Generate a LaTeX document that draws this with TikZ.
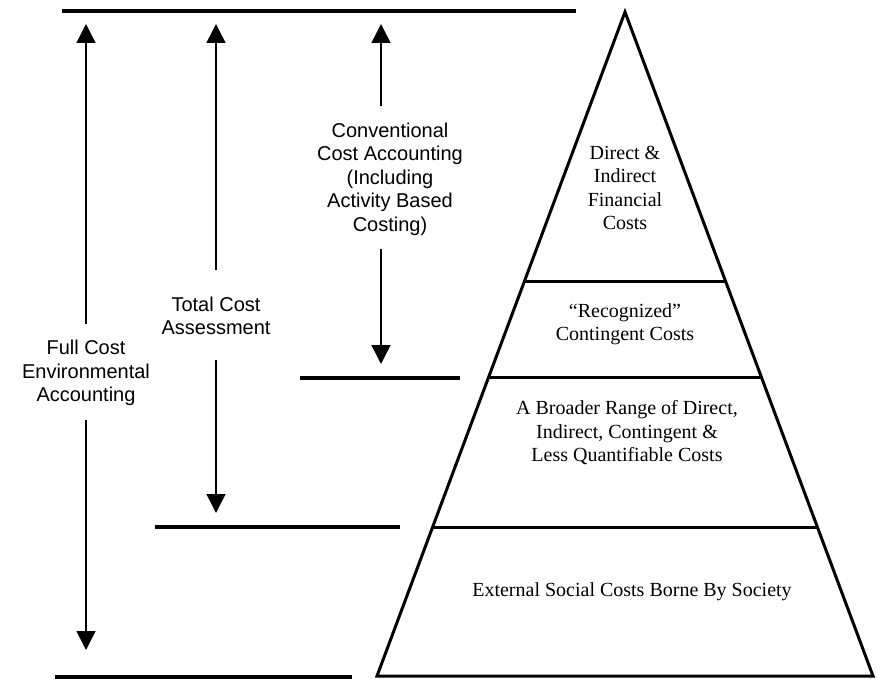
\documentclass[tikz,border=0pt]{standalone}
\usepackage{fontspec}
\setmainfont{Liberation Serif}
\newfontfamily\arialf{Liberation Sans}
\usetikzlibrary{arrows.meta,calc}
\begin{document}
\begin{tikzpicture}[x=1pt,y=-1pt,
  hline/.style={line width=3.2pt},
  pyr/.style={line width=3pt, line join=miter},
  shaft/.style={line width=1.5pt, -{Triangle[width=19pt,length=19pt]}},
  sidelabel/.style={font=\arialf\fontsize{20}{23.5}\selectfont, align=center, inner sep=0pt},
  pyrlabel/.style={font=\fontsize{20}{23.5}\selectfont, align=center, inner sep=0pt},
]
\useasboundingbox (0,0) rectangle (877,679);

% pyramid
\coordinate (A) at (625,12);
\coordinate (BL) at (377,676);
\coordinate (BR) at (873,676);
\draw[pyr] (A) -- (BR) -- (BL) -- cycle;
\draw[pyr] ($(A)!0.4066!(BL)$) -- ($(A)!0.4066!(BR)$);
\draw[pyr] ($(A)!0.5512!(BL)$) -- ($(A)!0.5512!(BR)$);
\draw[pyr] ($(A)!0.7756!(BL)$) -- ($(A)!0.7756!(BR)$);

% horizontal level lines
\coordinate (t1) at (62,11);   \coordinate (t2) at (576,11);
\coordinate (c1) at (300,378); \coordinate (c2) at (460,378);
\coordinate (s1) at (155,527); \coordinate (s2) at (400,527);
\coordinate (b1) at (55,677);  \coordinate (b2) at (352,677);
\draw[hline] (t1) -- (t2);
\draw[hline] (c1) -- (c2);
\draw[hline] (s1) -- (s2);
\draw[hline] (b1) -- (b2);

% pyramid labels
\node[pyrlabel] (p1) at (625,188) {Direct \&\\Indirect\\Financial\\Costs};
\node[pyrlabel] (p2) at (625,324) {“Recognized”\\Contingent Costs};
\node[pyrlabel] (p3) at (627,433) {A Broader Range of Direct,\\Indirect, Contingent \&\\Less Quantifiable Costs};
\node[pyrlabel] (p4) at (632,592) {External Social Costs Borne By Society};

% side labels
\node[sidelabel] (fcea) at (86,373) {Full Cost\\Environmental\\Accounting};
\node[sidelabel] (tca) at (216,316) {Total Cost\\Assessment};
\node[sidelabel] (cca) at (390,179) {Conventional\\Cost Accounting\\(Including\\Activity Based\\Costing)};

% arrow ends
\coordinate (a1top) at (86,24);  \coordinate (a1bot) at (86,650);
\coordinate (a2top) at (216,24); \coordinate (a2bot) at (216,513);
\coordinate (a3top) at (381,24); \coordinate (a3bot) at (381,364);

\draw[shaft, shorten <=16pt] (fcea.north) -- (a1top);
\draw[shaft, shorten <=14pt] (fcea.south) -- (a1bot);
\draw[shaft, shorten <=27pt] (tca.north) -- (a2top);
\draw[shaft, shorten <=25pt] (tca.south) -- (a2bot);
\draw[shaft, shorten <=16pt] (cca.north -| a3top) -- (a3top);
\draw[shaft, shorten <=13pt] (cca.south -| a3bot) -- (a3bot);
\end{tikzpicture}
\end{document}
